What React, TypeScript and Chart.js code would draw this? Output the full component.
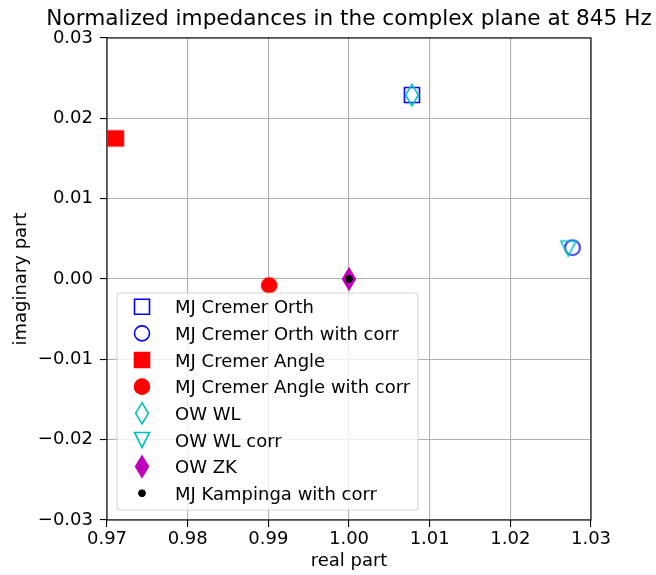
import React, { useEffect, useRef } from "react";
import { Chart, registerables } from "chart.js";

Chart.register(...registerables);

const TITLE = "Normalized impedances in the complex plane at 845 Hz";
const X_LABEL = "real part";
const Y_LABEL = "imaginary part";

const xTicks = [0.97, 0.98, 0.99, 1.0, 1.01, 1.02, 1.03];
const yTicks = [-0.03, -0.02, -0.01, 0.0, 0.01, 0.02, 0.03];

const seriesNames = [
  "MJ Cremer Orth",
  "MJ Cremer Orth with corr",
  "MJ Cremer Angle",
  "MJ Cremer Angle with corr",
  "OW WL",
  "OW WL corr",
  "OW ZK",
  "MJ Kampinga with corr",
];
const realParts = [1.0078, 1.0277, 0.9711, 0.9901, 1.0078, 1.0272, 1.0, 1.0];
const imagParts = [0.0229, 0.0039, 0.0175, -0.0008, 0.0229, 0.0038, 0.0, 0.0];

// styles
const markerShapes = ["square", "circle", "square", "circle", "thinDiamond", "triangleDown", "thinDiamond", "dot"];
const markerColors = ["#0000ff", "#0000ff", "#ff0000", "#ff0000", "#00bfbf", "#00bfbf", "#bf00bf", "#000000"];
const markerFilled = [false, false, true, true, false, false, true, true];

const FONT = '"DejaVu Sans", sans-serif';
const FS = 18;
const S = 15;
const LW = 1.6;

function drawMarker(ctx: CanvasRenderingContext2D, i: number, cx: number, cy: number) {
  const shape = markerShapes[i];
  const color = markerColors[i];
  const filled = markerFilled[i];
  ctx.save();
  ctx.strokeStyle = color;
  ctx.fillStyle = color;
  ctx.lineWidth = LW;
  ctx.lineJoin = "miter";
  ctx.beginPath();
  if (shape === "square") {
    ctx.rect(cx - S / 2, cy - S / 2, S, S);
  } else if (shape === "circle") {
    ctx.arc(cx, cy, S / 2, 0, Math.PI * 2);
  } else if (shape === "thinDiamond") {
    const h = (S * Math.SQRT2) / 2;
    const w = 0.6 * h;
    ctx.moveTo(cx, cy - h);
    ctx.lineTo(cx + w, cy);
    ctx.lineTo(cx, cy + h);
    ctx.lineTo(cx - w, cy);
    ctx.closePath();
  } else if (shape === "triangleDown") {
    ctx.moveTo(cx - S / 2, cy - S / 2);
    ctx.lineTo(cx + S / 2, cy - S / 2);
    ctx.lineTo(cx, cy + S / 2);
    ctx.closePath();
  } else if (shape === "dot") {
    ctx.arc(cx, cy, 3.4, 0, Math.PI * 2);
    ctx.lineWidth = 1;
  }
  if (filled) ctx.fill();
  ctx.stroke();
  ctx.restore();
}

function makeMarkerImage(i: number): HTMLCanvasElement {
  const c = document.createElement("canvas");
  c.width = 32;
  c.height = 32;
  const ctx = c.getContext("2d")!;
  drawMarker(ctx, i, 16, 16);
  return c;
}

function fmt(v: number): string {
  const s = Math.abs(v).toFixed(2);
  return v < -1e-9 ? "\u2212" + s : s;
}

const framePlugin = {
  id: "frameAndLegend",
  afterDatasetsDraw(chart: any) {
    const { ctx, chartArea: a } = chart;
    ctx.save();
    ctx.strokeStyle = "#000";
    ctx.lineWidth = 1.1;
    ctx.strokeRect(a.left, a.top, a.right - a.left, a.bottom - a.top);
    ctx.restore();
  },
  afterDraw(chart: any) {
    const { ctx, chartArea: a } = chart;
    ctx.save();
    // title
    ctx.fillStyle = "#000";
    ctx.font = `21.6px ${FONT}`;
    ctx.textAlign = "center";
    ctx.textBaseline = "alphabetic";
    ctx.fillText(TITLE, (a.left + a.right) / 2, 25);

    // legend
    const lx = a.left + 10;
    const ly = a.bottom - 227;
    const lw = 301;
    const lh = 217;
    const r = 3;
    ctx.beginPath();
    ctx.moveTo(lx + r, ly);
    ctx.lineTo(lx + lw - r, ly);
    ctx.arcTo(lx + lw, ly, lx + lw, ly + r, r);
    ctx.lineTo(lx + lw, ly + lh - r);
    ctx.arcTo(lx + lw, ly + lh, lx + lw - r, ly + lh, r);
    ctx.lineTo(lx + r, ly + lh);
    ctx.arcTo(lx, ly + lh, lx, ly + lh - r, r);
    ctx.lineTo(lx, ly + r);
    ctx.arcTo(lx, ly, lx + r, ly, r);
    ctx.closePath();
    ctx.fillStyle = "rgba(255,255,255,0.8)";
    ctx.fill();
    ctx.strokeStyle = "rgba(204,204,204,0.8)";
    ctx.lineWidth = 1.1;
    ctx.stroke();

    ctx.font = `${FS}px ${FONT}`;
    ctx.textAlign = "left";
    ctx.textBaseline = "alphabetic";
    seriesNames.forEach((name, i) => {
      const y = ly + 13.7 + i * 26.65;
      drawMarker(ctx, i, lx + 25, y);
      ctx.fillStyle = "#000";
      ctx.fillText(name, lx + 58, y + 6.6);
    });
    ctx.restore();
  },
};

export default function App() {
  const ref = useRef<HTMLCanvasElement>(null);
  useEffect(() => {
    const canvas = ref.current!;
    Chart.defaults.font.family = FONT;
    Chart.defaults.color = "#000";
    const datasets = seriesNames.map((name, i) => ({
      label: name,
      data: [{ x: realParts[i], y: imagParts[i] }],
      pointStyle: makeMarkerImage(i) as any,
      pointRadius: 8,
      pointHoverRadius: 8,
      order: seriesNames.length - i,
      showLine: false,
    }));
    const chart = new Chart(canvas, {
      type: "scatter",
      data: { datasets },
      options: {
        responsive: false,
        animation: false,
        devicePixelRatio: 1,
        layout: { padding: { top: 38, right: 65, left: 0, bottom: 0 } },
        plugins: {
          legend: { display: false },
          title: { display: false },
          tooltip: { enabled: false },
        },
        scales: {
          x: {
            type: "linear",
            position: "bottom",
            min: xTicks[0],
            max: xTicks[xTicks.length - 1],
            afterBuildTicks: (s: any) => {
              s.ticks = xTicks.map((v) => ({ value: v }));
            },
            afterFit: (s: any) => {
              s.height = 55;
            },
            ticks: {
              callback: (v: any) => fmt(Number(v)),
              color: "#000",
              font: { size: FS },
              padding: 2,
              maxRotation: 0,
              autoSkip: false,
            },
            grid: {
              color: "#b0b0b0",
              lineWidth: 1.1,
              drawTicks: true,
              tickLength: 7,
              tickColor: "#000",
              tickWidth: 1.1,
            },
            border: { display: false },
            title: {
              display: true,
              text: X_LABEL,
              color: "#000",
              font: { size: FS },
              padding: { top: 0, bottom: 3 },
            },
          },
          y: {
            type: "linear",
            position: "left",
            min: yTicks[0],
            max: yTicks[yTicks.length - 1],
            afterBuildTicks: (s: any) => {
              s.ticks = yTicks.map((v) => ({ value: v }));
            },
            afterFit: (s: any) => {
              s.width = 107;
            },
            ticks: {
              callback: (v: any) => fmt(Number(v)),
              color: "#000",
              font: { size: FS },
              padding: 7,
              autoSkip: false,
            },
            grid: {
              color: "#b0b0b0",
              lineWidth: 1.1,
              drawTicks: true,
              tickLength: 7,
              tickColor: "#000",
              tickWidth: 1.1,
            },
            border: { display: false },
            title: {
              display: true,
              text: Y_LABEL,
              color: "#000",
              font: { size: FS },
              padding: { top: 10.7, bottom: 0 },
            },
          },
        },
      } as any,
      plugins: [framePlugin],
    });
    return () => chart.destroy();
  }, []);
  return (
    <div style={{ position: "absolute", left: 0, top: 0, width: 656, height: 575 }}>
      <canvas ref={ref} width={656} height={575} style={{ display: "block" }} />
    </div>
  );
}
